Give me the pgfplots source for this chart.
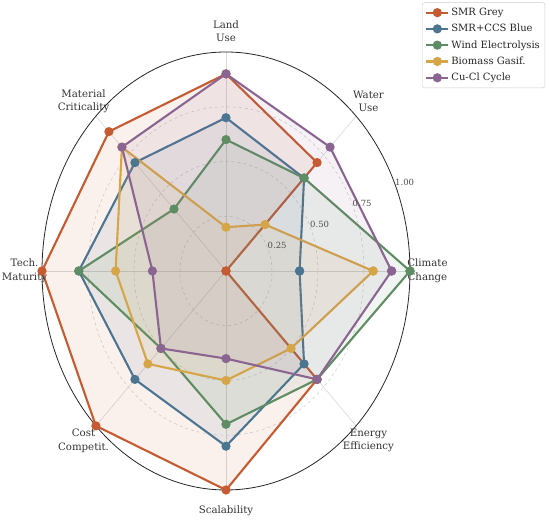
\documentclass[border=0pt]{standalone}
\usepackage{fontspec}
\setmainfont{DejaVu Serif}
\usepackage{pgfplots}
\pgfplotsset{compat=1.18}
\definecolor{cA}{HTML}{C65A30}
\definecolor{cB}{HTML}{4C7592}
\definecolor{cC}{HTML}{5F8D63}
\definecolor{cD}{HTML}{D5A548}
\definecolor{cE}{HTML}{8B6591}
\begin{document}
\begin{tikzpicture}
\useasboundingbox (0,0) rectangle (550pt,522pt);
\begin{axis}[
  at={(226pt,251pt)}, anchor=center,
  scale only axis, width=368pt, height=438pt,
  xmin=-1, xmax=1, ymin=-1, ymax=1,
  hide axis, clip=false,
  legend cell align=left,
  legend style={at={(1.367,1.113)}, anchor=north east, draw=black!20, rounded corners=2pt,
    font=\fontsize{10}{12}\selectfont, text=black!85, row sep=3.2pt, inner xsep=3pt, inner ysep=3.5pt},
  legend image code/.code={\draw[mark repeat=2,mark phase=2] plot coordinates {(0pt,0pt) (11pt,0pt) (22pt,0pt)};},
]
% grid
\pgfplotsinvokeforeach{0,45,...,315}{
  \draw[black!15, line width=0.6pt] (axis cs:0,0) -- (axis cs:{cos(#1)},{sin(#1)});
}
\draw[black!20, dashed, line width=0.5pt] (axis cs:0,0) ellipse [x radius=0.25, y radius=0.25];
\draw[black!20, dashed, line width=0.5pt] (axis cs:0,0) ellipse [x radius=0.5, y radius=0.5];
\draw[black!20, dashed, line width=0.5pt] (axis cs:0,0) ellipse [x radius=0.75, y radius=0.75];

% SMR Grey
\addplot[draw=none, fill=cA, fill opacity=0.09, forget plot, data cs=polar] coordinates {(0,0) (45,0.7) (90,0.9) (135,0.9) (180,1.0) (225,1.0) (270,1.0) (315,0.7) (360,0)};
\addplot[cA, line width=2.1pt, mark=*, mark size=3.5pt, mark options={solid}, data cs=polar] coordinates {(0,0) (45,0.7) (90,0.9) (135,0.9) (180,1.0) (225,1.0) (270,1.0) (315,0.7) (360,0)};
\addlegendentry{SMR Grey}
% SMR+CCS Blue
\addplot[draw=none, fill=cB, fill opacity=0.09, forget plot, data cs=polar] coordinates {(0,0.4) (45,0.6) (90,0.7) (135,0.7) (180,0.8) (225,0.7) (270,0.8) (315,0.6) (360,0.4)};
\addplot[cB, line width=2.1pt, mark=*, mark size=3.5pt, mark options={solid}, data cs=polar] coordinates {(0,0.4) (45,0.6) (90,0.7) (135,0.7) (180,0.8) (225,0.7) (270,0.8) (315,0.6) (360,0.4)};
\addlegendentry{SMR+CCS Blue}
% Wind Electrolysis
\addplot[draw=none, fill=cC, fill opacity=0.09, forget plot, data cs=polar] coordinates {(0,1.0) (45,0.6) (90,0.6) (135,0.4) (180,0.8) (225,0.5) (270,0.7) (315,0.7) (360,1.0)};
\addplot[cC, line width=2.1pt, mark=*, mark size=3.5pt, mark options={solid}, data cs=polar] coordinates {(0,1.0) (45,0.6) (90,0.6) (135,0.4) (180,0.8) (225,0.5) (270,0.7) (315,0.7) (360,1.0)};
\addlegendentry{Wind Electrolysis}
% Biomass Gasif.
\addplot[draw=none, fill=cD, fill opacity=0.09, forget plot, data cs=polar] coordinates {(0,0.8) (45,0.3) (90,0.2) (135,0.8) (180,0.6) (225,0.6) (270,0.5) (315,0.5) (360,0.8)};
\addplot[cD, line width=2.1pt, mark=*, mark size=3.5pt, mark options={solid}, data cs=polar] coordinates {(0,0.8) (45,0.3) (90,0.2) (135,0.8) (180,0.6) (225,0.6) (270,0.5) (315,0.5) (360,0.8)};
\addlegendentry{Biomass Gasif.}
% Cu-Cl Cycle
\addplot[draw=none, fill=cE, fill opacity=0.09, forget plot, data cs=polar] coordinates {(0,0.9) (45,0.8) (90,0.9) (135,0.8) (180,0.4) (225,0.5) (270,0.4) (315,0.7) (360,0.9)};
\addplot[cE, line width=2.1pt, mark=*, mark size=3.5pt, mark options={solid}, data cs=polar] coordinates {(0,0.9) (45,0.8) (90,0.9) (135,0.8) (180,0.4) (225,0.5) (270,0.4) (315,0.7) (360,0.9)};
\addlegendentry{Cu-Cl Cycle}

% outer circle
\draw[black!85, line width=0.8pt] (axis cs:0,0) ellipse [x radius=1, y radius=1];

% radial tick labels
\pgfplotsinvokeforeach{0.25,0.50,0.75,1.00}{
  \node[anchor=south west, inner sep=1pt, xshift=-2pt, font=\fontsize{8.5}{10}\selectfont, text=black!70] at (axis cs:{#1*cos(22.5)},{#1*sin(22.5)}) {#1};
}
% category labels
\begin{scope}[every node/.style={align=center, font=\fontsize{10.2}{13.5}\selectfont, text=black!80, inner sep=0pt}]
\node at (axis cs:{1.095*cos(0)},{1.095*sin(0)}) {Climate\\Change};
\node at (axis cs:{1.095*cos(45)},{1.095*sin(45)}) {Water\\Use};
\node at (axis cs:{1.095*cos(90)},{1.095*sin(90)}) {Land\\Use};
\node at (axis cs:{1.095*cos(135)},{1.095*sin(135)}) {Material\\Criticality};
\node at (axis cs:{1.095*cos(180)},{1.095*sin(180)}) {Tech.\\Maturity};
\node at (axis cs:{1.095*cos(225)},{1.095*sin(225)}) {Cost\\Competit.};
\node at (axis cs:{1.095*cos(270)},{1.095*sin(270)}) {Scalability};
\node at (axis cs:{1.095*cos(315)},{1.095*sin(315)}) {Energy\\Efficiency};
\end{scope}
\end{axis}
\end{tikzpicture}
\end{document}
